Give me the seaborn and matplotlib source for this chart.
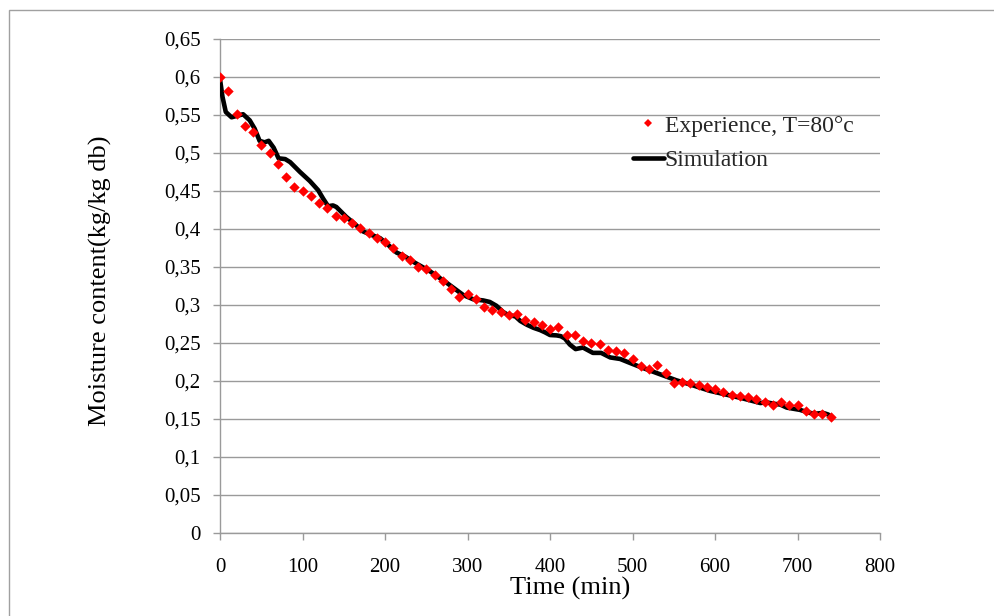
import matplotlib
matplotlib.use("Agg")
import matplotlib.pyplot as plt
from matplotlib.patches import Rectangle
from matplotlib.lines import Line2D
import seaborn as sns
import pandas as pd

# Experimental drying curve at T = 80 °C
exp_time = [0, 10, 20, 30, 40, 50, 60, 70, 80, 90, 100, 110, 120, 130, 140,
            150, 160, 170, 180, 190, 200, 210, 220, 230, 240, 250, 260, 270,
            280, 290, 300, 310, 320, 330, 340, 350, 360, 370, 380, 390, 400,
            410, 420, 430, 440, 450, 460, 470, 480, 490, 500, 510, 520, 530,
            540, 550, 560, 570, 580, 590, 600, 610, 620, 630, 640, 650, 660,
            670, 680, 690, 700, 710, 720, 730, 740]
exp_moisture = [0.600, 0.581, 0.551, 0.536, 0.528, 0.511, 0.500, 0.485, 0.468,
                0.455, 0.450, 0.443, 0.434, 0.427, 0.417, 0.414, 0.408, 0.401,
                0.395, 0.388, 0.383, 0.375, 0.365, 0.359, 0.350, 0.347, 0.340,
                0.332, 0.321, 0.311, 0.315, 0.308, 0.297, 0.293, 0.291, 0.287,
                0.288, 0.280, 0.277, 0.274, 0.269, 0.271, 0.261, 0.261, 0.253,
                0.250, 0.249, 0.241, 0.240, 0.237, 0.229, 0.220, 0.216, 0.221,
                0.211, 0.197, 0.199, 0.198, 0.195, 0.192, 0.190, 0.186, 0.182,
                0.180, 0.179, 0.176, 0.173, 0.169, 0.172, 0.168, 0.169, 0.161,
                0.157, 0.156, 0.152]

# Simulated drying curve
sim_time = [0, 3, 7, 14, 21, 28, 36, 42, 48, 54, 59, 65, 71, 79, 85, 97, 109,
            119, 125, 131, 137, 141, 153, 163, 173, 184, 194, 204, 214, 224,
            234, 255, 275, 295, 307, 319, 327, 335, 343, 349, 358, 364, 372,
            380, 388, 394, 400, 408, 413, 418, 424, 431, 440, 452, 462, 473,
            485, 501, 513, 533, 553, 574, 594, 614, 634, 655, 662, 672, 679,
            687, 703, 715, 722, 731, 737, 742]
sim_moisture = [0.597, 0.574, 0.554, 0.547, 0.549, 0.551, 0.543, 0.532, 0.516,
                0.514, 0.516, 0.507, 0.493, 0.492, 0.488, 0.475, 0.463, 0.451,
                0.440, 0.430, 0.431, 0.429, 0.416, 0.407, 0.397, 0.392, 0.388,
                0.379, 0.369, 0.364, 0.357, 0.344, 0.329, 0.313, 0.3075, 0.306,
                0.304, 0.299, 0.291, 0.287, 0.285, 0.279, 0.274, 0.270, 0.267,
                0.264, 0.2605, 0.260, 0.259, 0.256, 0.248, 0.242, 0.244, 0.237,
                0.237, 0.231, 0.229, 0.222, 0.217, 0.209, 0.201, 0.194, 0.187,
                0.182, 0.177, 0.171, 0.172, 0.170, 0.169, 0.165, 0.162, 0.158,
                0.157, 0.158, 0.156, 0.152]

x_ticks = [0, 100, 200, 300, 400, 500, 600, 700, 800]
y_ticks = [0, 0.05, 0.1, 0.15, 0.2, 0.25, 0.3, 0.35, 0.4, 0.45, 0.5, 0.55, 0.6, 0.65]
y_tick_labels = ["0", "0,05", "0,1", "0,15", "0,2", "0,25", "0,3", "0,35",
                 "0,4", "0,45", "0,5", "0,55", "0,6", "0,65"]

exp_df = pd.DataFrame({"time": exp_time, "moisture": exp_moisture})
sim_df = pd.DataFrame({"time": sim_time, "moisture": sim_moisture})

sns.set_theme(style="white")
plt.rcParams["font.family"] = ["Liberation Serif", "DejaVu Serif"]

GRID = "#9a9a9a"

fig = plt.figure(figsize=(9.94, 6.16), dpi=100)
ax = fig.add_axes([220 / 994, 83 / 616, 660 / 994, 494 / 616])

sns.lineplot(data=sim_df, x="time", y="moisture", ax=ax, color="black",
             linewidth=3.3, sort=False, estimator=None, zorder=3)
sns.scatterplot(data=exp_df, x="time", y="moisture", ax=ax, color="#ff0000",
                marker="D", s=28, linewidth=0, zorder=4)

ax.set_xlim(0, 800)
ax.set_ylim(0, 0.65)
ax.set_xticks(x_ticks)
ax.set_yticks(y_ticks)
ax.set_yticklabels(y_tick_labels)
ax.grid(axis="y", color=GRID, linewidth=1.0)
ax.set_axisbelow(True)

for side in ("top", "right"):
    ax.spines[side].set_visible(False)
for side in ("left", "bottom"):
    ax.spines[side].set_color(GRID)
    ax.spines[side].set_linewidth(1.0)

ax.tick_params(axis="both", which="major", direction="out", length=5,
               width=1.0, color=GRID, labelsize=15, labelcolor="black",
               bottom=True, left=True)
ax.tick_params(axis="y", pad=9)
ax.tick_params(axis="x", pad=13)

ax.set_xlabel("Time (min)", fontsize=19, color="black")
ax.set_ylabel("Moisture content(kg/kg db)", fontsize=19, color="black")
ax.xaxis.set_label_coords((570 - 220) / 660, (533 - 588) / 494)
ax.xaxis.label.set_va("center")
ax.yaxis.set_label_coords((100 - 220) / 660, (533 - 281) / 494)
ax.yaxis.label.set_va("center")

handles = [
    Line2D([], [], linestyle="none", marker="D", color="#ff0000",
           markersize=4, markeredgewidth=0),
    Line2D([], [], color="black", linewidth=3.3),
]
leg = ax.legend(handles, ["Experience, T=80°c", "Simulation"],
                loc="upper left", bbox_to_anchor=(633 / 994, (616 - 115) / 616),
                bbox_transform=fig.transFigure, frameon=False, fontsize=17,
                handlelength=1.3, handletextpad=0.05, borderpad=0,
                borderaxespad=0, labelspacing=0.55)

# Outer chart frame
fig.patches.append(Rectangle((9 / 994, -0.1), 1.2, (616 - 10) / 616 + 0.1,
                             transform=fig.transFigure, fill=False,
                             edgecolor="#a0a0a0", linewidth=1.0))

fig.savefig("out.png", dpi=100)
